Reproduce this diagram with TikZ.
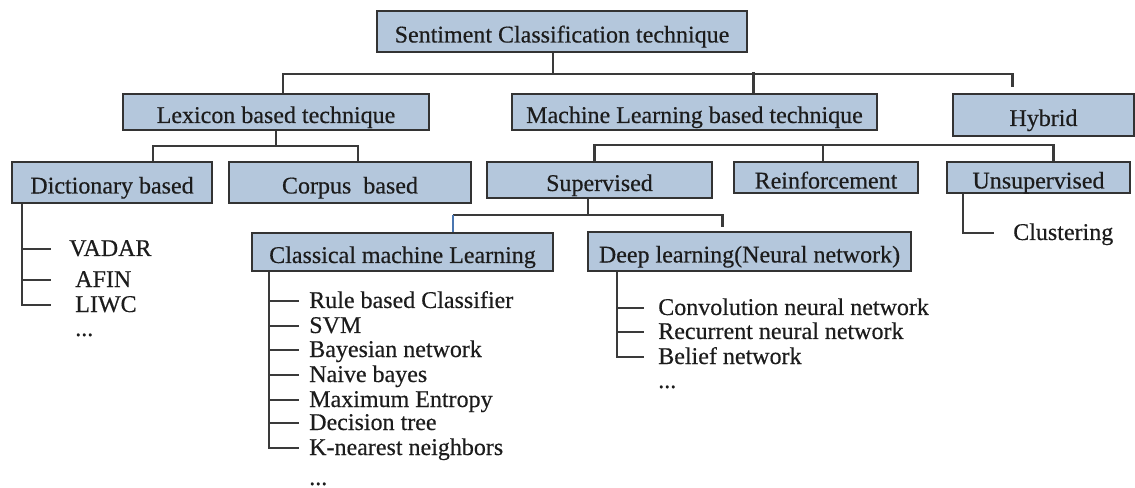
\documentclass[tikz,border=0pt]{standalone}
\usepackage{fontspec}
\setmainfont{Liberation Serif}[FakeBold=0.4]
\usetikzlibrary{calc}
\definecolor{boxfill}{HTML}{B4C7DC}
\definecolor{boxline}{HTML}{333333}
\definecolor{linkcol}{HTML}{3A3A3A}
\definecolor{bluelink}{HTML}{4A76B0}
\definecolor{txt}{HTML}{1C1C1C}
\tikzset{
  cbox/.style={draw=boxline,line width=1.6pt,fill=boxfill,inner sep=0pt,
    text=txt,text height=16.5pt,text depth=0pt},
  boxsize/.style 2 args={minimum width=#1*0.75pt,minimum height=#2*0.75pt},
  link/.style={draw=linkcol,line width=1.6pt},
  item/.style={anchor=base west,inner sep=0pt,text=txt,text height=12pt,text depth=2pt},
}

\begin{document}
\begin{tikzpicture}[x=0.75pt,y=-0.75pt,font=\fontsize{18}{22}\selectfont]
    \useasboundingbox (0,0) rectangle (1135,488);
    % boxes
    \node[cbox,boxsize={370}{41}] (root) at (562,31.5) {Sentiment Classification technique};
    \node[cbox,boxsize={306}{36}] (lex) at (276,112) {Lexicon based technique};
    \node[cbox,boxsize={365}{36}] (ml) at (694.5,112) {Machine Learning based technique};
    \node[cbox,boxsize={181}{42}] (hyb) at (1043.5,115) {Hybrid};
    \node[cbox,boxsize={200}{41}] (dict) at (112,182.5) {Dictionary based};
    \node[cbox,boxsize={242}{41}] (corp) at (350,182.5) {Corpus~ based};
    \node[cbox,boxsize={225}{36}] (sup) at (599.5,180) {Supervised};
    \node[cbox,boxsize={184}{31}] (rein) at (826,177.5) {Reinforcement};
    \node[cbox,boxsize={183}{31}] (unsup) at (1038.5,177.5) {Unsupervised};
    \node[cbox,boxsize={301}{38}] (clas) at (402.5,252) {Classical machine Learning};
    \node[cbox,boxsize={323}{39}] (deep) at (749.5,251.5) {Deep learning(Neural network)};

    % tree links
    \draw[link] ($(root.south)+(-9,0)$) -- ++(0,21) coordinate (topbus);
    \draw[link] ($(lex.north)+(7,0)$) |- (topbus) -| ($(hyb.north)+(-31,-6)$);
    \draw[link] ($(ml.north)+(59,0)$) -- ++(0,-21);
    \draw[link] (lex.south) -- ++(0,15) coordinate (lexbus);
    \draw[link] ($(dict.north)+(41,0)$) |- (lexbus) -| ($(corp.north)+(8,0)$);
    \draw[link] ($(sup.north)+(-5,0)$) -- ++(0,-16) -| ($(unsup.north)+(15,0)$);
    \draw[link] ($(rein.north)+(-3,0)$) -- ++(0,-16);
    \draw[link] ($(sup.south)+(-11.5,0)$) -- ++(0,16) coordinate (supbus);
    \draw[link] (supbus) -| ($(deep.north)+(-27,-4)$);
    \coordinate (clasdrop) at ($(clas.north)+(50.5,0)$);
    \draw[link] (supbus) -- (supbus -| clasdrop);
    \draw[link,draw=bluelink] (supbus -| clasdrop) -- (clasdrop);

    % lexicon list
    \node[item] (vadar) at (69,256) {VADAR};
    \node[item] (afin) at (75,287) {AFIN};
    \node[item] (liwc) at (75,312) {LIWC};
    \node[item] (dmore) at (75,336) {...};
    \coordinate (dtrunk) at ($(dict.south west)+(11,0)$);
    \coordinate (dtick) at ($(dtrunk)+(29,0)$);
    \foreach \n in {vadar,afin,liwc}
      \draw[link] (dtrunk) |- (\n.west -| dtick);

    % classical list
    \node[item] (rule) at (309,308) {Rule based Classifier};
    \node[item] (svm) at (309,333) {SVM};
    \node[item] (bayes) at (309,357) {Bayesian network};
    \node[item] (naive) at (309,382) {Naive bayes};
    \node[item] (maxent) at (309,407) {Maximum Entropy};
    \node[item] (dtree) at (309,430) {Decision tree};
    \node[item] (knn) at (309,455) {K-nearest neighbors};
    \node[item] (cmore) at (309,485) {...};
    \coordinate (ctrunk) at ($(clas.south west)+(18,0)$);
    \coordinate (ctick) at ($(ctrunk)+(30,0)$);
    \foreach \n in {rule,svm,bayes,naive,maxent,dtree,knn}
      \draw[link] (ctrunk) |- (\n.west -| ctick);

    % deep list
    \node[item] (cnn) at (658,315) {Convolution neural network};
    \node[item] (rnn) at (658,339) {Recurrent neural network};
    \node[item] (belief) at (658,364) {Belief network};
    \node[item] (nmore) at (658,388) {...};
    \coordinate (ntrunk) at ($(deep.south west)+(30,0)$);
    \coordinate (ntick) at ($(ntrunk)+(27,0)$);
    \foreach \n in {cnn,rnn,belief}
      \draw[link] (ntrunk) |- (\n.west -| ntick);

    % unsupervised
    \node[item] (clust) at (1013,240) {Clustering};
    \coordinate (utrunk) at ($(unsup.south west)+(17,0)$);
    \draw[link] (utrunk) |- ($(clust.west)+(-19,0)$);
\end{tikzpicture}
\end{document}
